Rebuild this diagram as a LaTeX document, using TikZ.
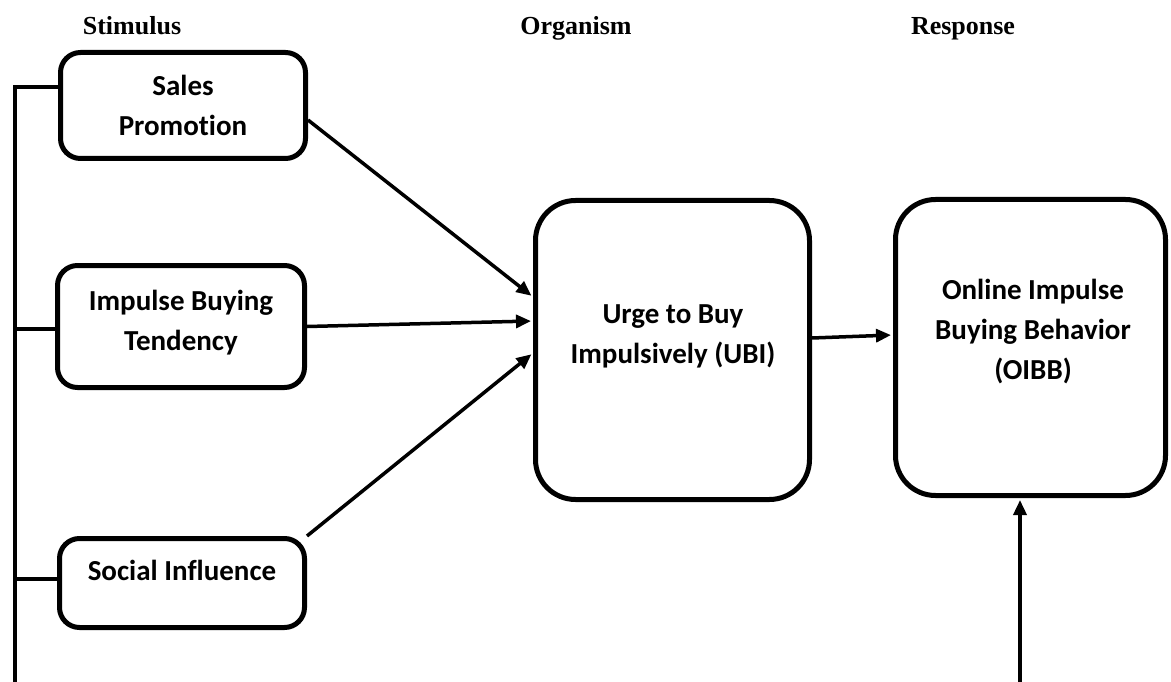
\documentclass[tikz,border=0pt]{standalone}
\usepackage{fontspec}
\setmainfont{Liberation Serif}
\newfontfamily\carlito[Ligatures=CommonOff]{Carlito}
\usetikzlibrary{arrows.meta}
\begin{document}
\begin{tikzpicture}[x=1pt,y=-1pt,
  box/.style={draw=black, line width=5pt, rounded corners=20pt, fill=white, inner sep=0pt},
  bigbox/.style={box, rounded corners=40pt},
  lbl/.style={font=\carlito\bfseries\fontsize{29}{40}\selectfont, align=center, inner sep=0pt},
  hdr/.style={font=\bfseries\fontsize{26}{30}\selectfont, inner sep=0pt, anchor=base},
  conn/.style={line width=3.5pt},
  arr/.style={conn, -{Triangle[length=15pt,width=13pt]}, shorten >=2pt}]
\useasboundingbox (0,0) rectangle (1171,682);

% headers
\node[hdr] (h1) at (132,35) {Stimulus};
\node[hdr] (h2) at (576,35) {Organism};
\node[hdr] (h3) at (963,35) {Response};

% boxes
\node[box, minimum width=245pt, minimum height=106pt] (sp) at (183,105.5) {};
\node[box, minimum width=247pt, minimum height=122pt] (ibt) at (181,326.5) {};
\node[box, minimum width=245pt, minimum height=89pt] (si) at (182,583) {};
\node[bigbox, minimum width=274pt, minimum height=299pt] (ubi) at (672.5,350) {};
\node[bigbox, minimum width=270pt, minimum height=296pt] (oibb) at (1030.5,347.5) {};

% texts
\node[lbl] (tsp) at (183,105.5) {Sales\\Promotion};
\node[lbl] (tibt) at (181,323) {Impulse Buying\\Tendency};
\node[lbl, anchor=base] (tsi) at (182,580) {Social Influence};
\node[lbl] (tubi) at (673,336.5) {Urge to Buy\\Impulsively (UBI)};
\node[lbl] (toibb) at (1033,332) {Online Impulse\\Buying Behavior\\(OIBB)};

% left bracket line
\coordinate (lb) at (15,682);
\coordinate (j1) at (15,87);
\coordinate (j2) at (15,329);
\coordinate (j3) at (15,579);
\draw[conn] (lb) -- (j1) -- (j1 -| sp.west);
\draw[conn] (j2) -- (j2 -| ibt.west);
\draw[conn] (j3) -- (j3 -| si.west);

% arrows into UBI
\draw[arr] ([yshift=-14.5pt]sp.east) -- ([yshift=53pt]ubi.west);
\draw[arr] (ibt.east) -- ([yshift=29pt]ubi.west);
\draw[arr] (si.north east) -- ([yshift=-3pt]ubi.west);

% UBI -> OIBB
\draw[arr] ([yshift=12pt]ubi.east) -- ([yshift=12.5pt]oibb.west);

% bottom arrow
\coordinate (rb) at (1020,682);
\draw[arr] (rb) -- (rb |- oibb.south);
\end{tikzpicture}
\end{document}
